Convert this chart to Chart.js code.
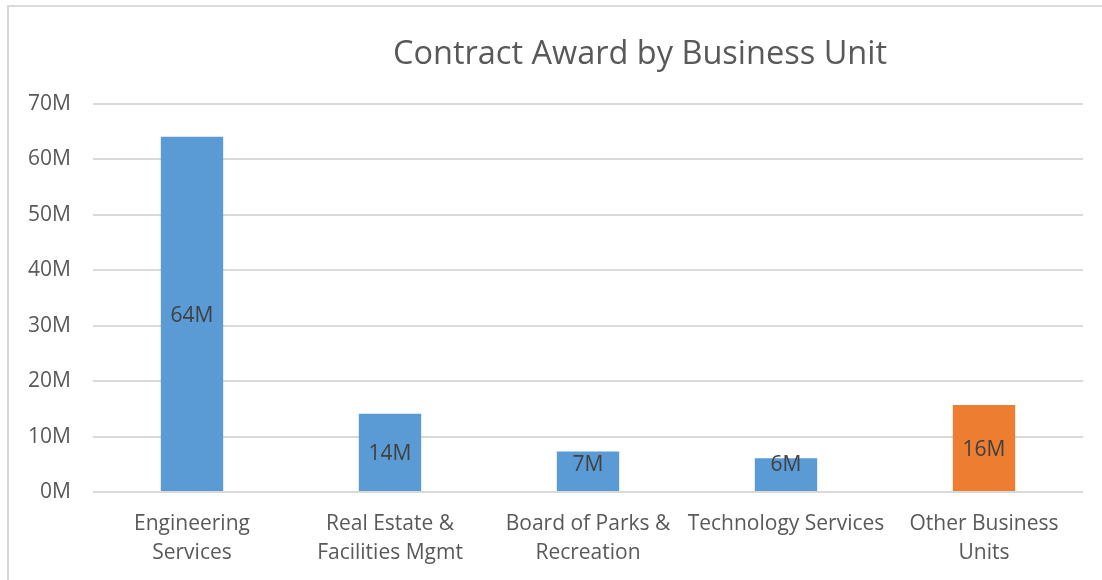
<!DOCTYPE html>
<html>
<head>
<meta charset="utf-8">
<script src="https://cdn.jsdelivr.net/npm/chart.js@4.4.1/dist/chart.umd.min.js"></script>
<style>
    html, body { margin: 0; padding: 0; background: #fff; overflow: hidden; }
    #wrap { position: absolute; left: 0; top: 0; width: 1102px; height: 580px; }
    #frame { position: absolute; left: 7px; top: 5px; width: 1200px; height: 700px;
             border-left: 2px solid #d9d9d9; border-top: 2px solid #d9d9d9; pointer-events: none; }
</style>
</head>
<body>
<div id="wrap"><canvas id="chart"></canvas></div>
<div id="frame"></div>
<script>
const TITLE = 'Contract Award by Business Unit';
const categories = [
    ['Engineering', 'Services'],
    ['Real Estate &', 'Facilities Mgmt'],
    ['Board of Parks &', 'Recreation'],
    ['Technology Services'],
    ['Other Business', 'Units']
];
const awards = [64.1e6, 14.1e6, 7.3e6, 6.1e6, 15.7e6];
const barColors = ['#5b9bd5', '#5b9bd5', '#5b9bd5', '#5b9bd5', '#ed7d31'];
const yTicks = [0, 10e6, 20e6, 30e6, 40e6, 50e6, 60e6, 70e6];

const FONT = '"Open Sans", "Liberation Sans", sans-serif';
const fmtM = v => Math.round(v / 1e6) + 'M';

// title sits off-centre like the original, drawn by hand
const titlePlugin = {
    id: 'titleText',
    afterDraw(chart) {
        const ctx = chart.ctx;
        ctx.save();
        ctx.font = '400 32.5px ' + FONT;
        ctx.fillStyle = '#595959';
        ctx.textAlign = 'center';
        ctx.textBaseline = 'middle';
        ctx.fillText(TITLE, 640, 55);
        ctx.restore();
    }
};

// value labels inside bars
const barLabels = {
    id: 'barLabels',
    afterDatasetsDraw(chart) {
        const ctx = chart.ctx;
        const meta = chart.getDatasetMeta(0);
        ctx.save();
        ctx.font = '21px ' + FONT;
        ctx.fillStyle = '#404040';
        ctx.textAlign = 'center';
        ctx.textBaseline = 'middle';
        meta.data.forEach((bar, i) => {
            const y = Math.min((bar.y + bar.base) / 2 + 2, bar.base - 26);
            ctx.fillText(fmtM(awards[i]), bar.x, y);
        });
        ctx.restore();
    }
};

new Chart(document.getElementById('chart'), {
    type: 'bar',
    data: {
        labels: categories,
        datasets: [{
            data: awards,
            backgroundColor: barColors,
            borderWidth: 0,
            barPercentage: 0.315,
            categoryPercentage: 1
        }]
    },
    options: {
        responsive: true,
        maintainAspectRatio: false,
        animation: false,
        layout: { padding: { left: 0, right: 19, top: 104, bottom: 0 } },
        plugins: {
            legend: { display: false },
            title: { display: false },
            tooltip: { enabled: false }
        },
        scales: {
            x: {
                grid: { display: false, drawTicks: false },
                border: { display: false },
                ticks: {
                    color: '#595959',
                    font: { family: FONT, size: 21, lineHeight: 1.4 },
                    padding: 17,
                    maxRotation: 0,
                    autoSkip: false
                },
                afterFit(scale) { scale.height = 88; }
            },
            y: {
                min: 0,
                max: 70e6,
                afterBuildTicks(scale) { scale.ticks = yTicks.map(v => ({ value: v })); },
                grid: { color: '#d9d9d9', lineWidth: 2, drawTicks: false },
                border: { display: false },
                ticks: {
                    color: '#595959',
                    font: { family: FONT, size: 21 },
                    padding: 22,
                    callback: v => fmtM(v)
                },
                afterFit(scale) { scale.width = 93; }
            }
        }
    },
    plugins: [titlePlugin, barLabels]
});
</script>
</body>
</html>
